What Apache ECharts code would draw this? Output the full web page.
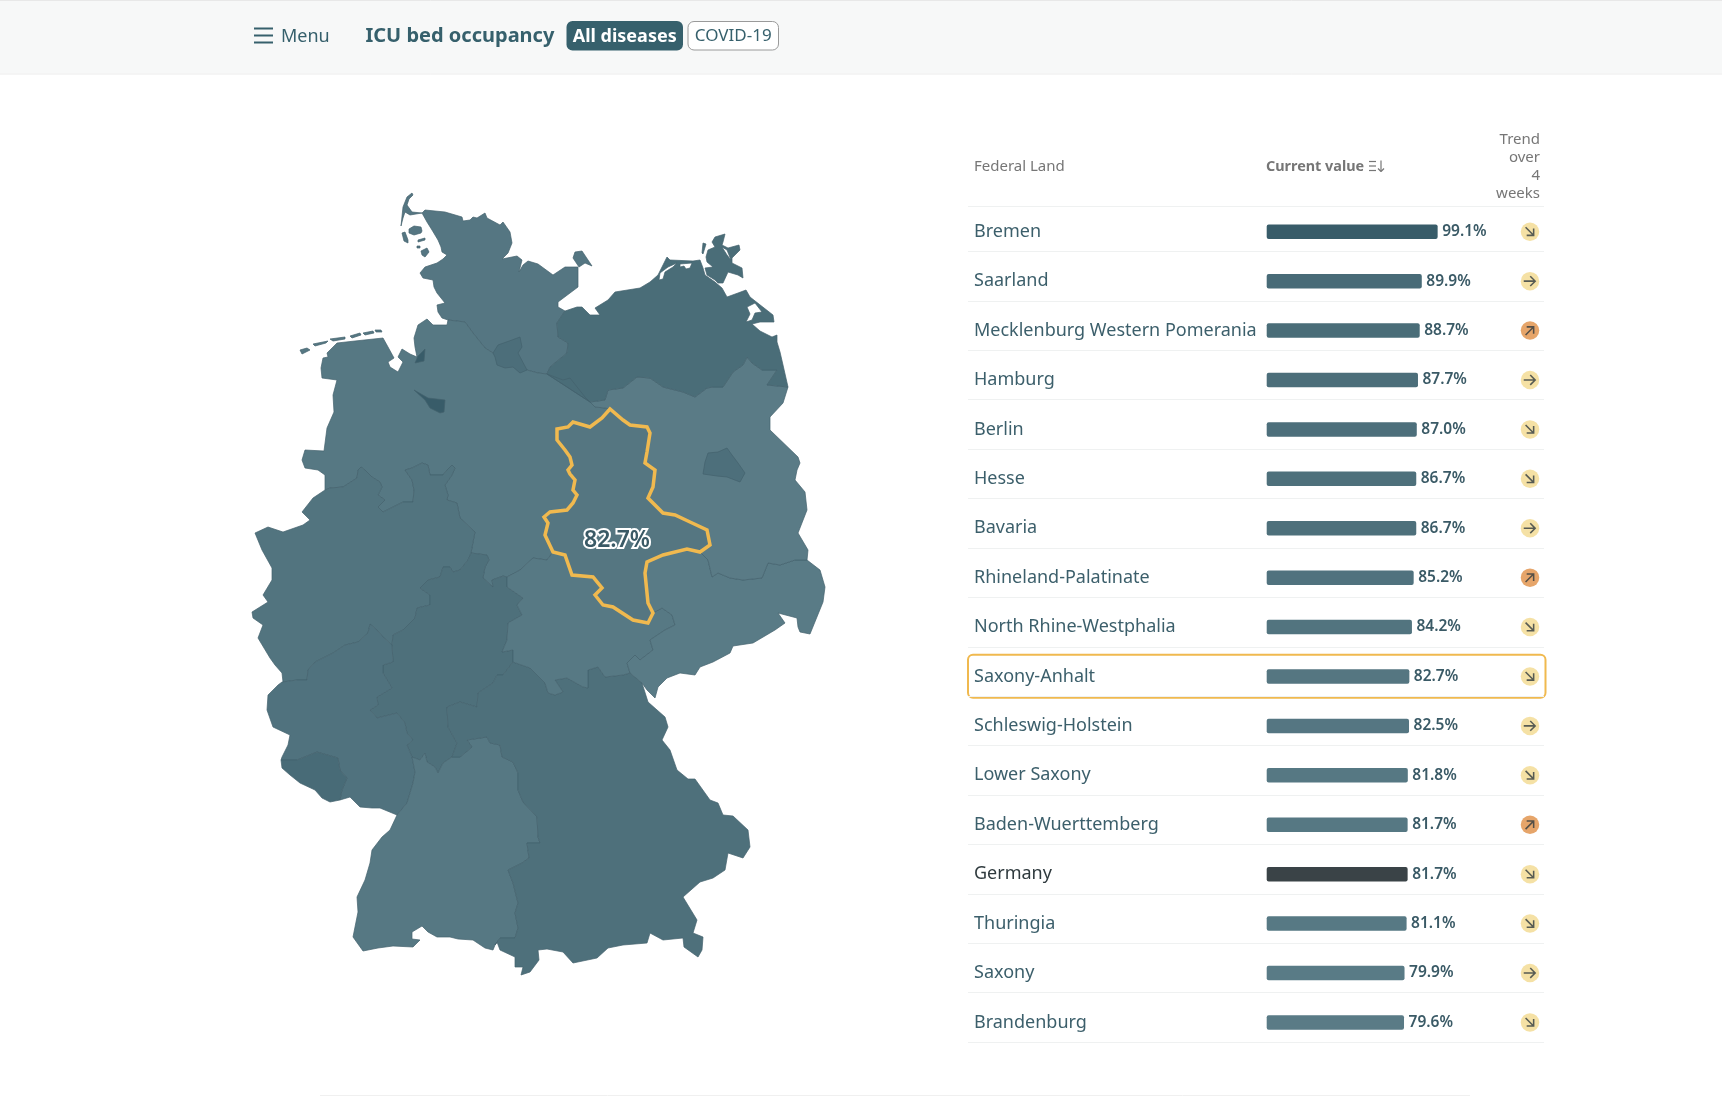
<!DOCTYPE html>
<html><head><meta charset="utf-8">
<style>html,body{margin:0;padding:0;background:#fff}#c{width:1722px;height:1097px}</style>
<script src="https://cdn.jsdelivr.net/npm/echarts@6/dist/echarts.min.js"></script>
</head><body><div id="c"></div>
<script>
const FONT='"Noto Sans",sans-serif';
// ---- table data ----
const lands=['Bremen','Saarland','Mecklenburg Western Pomerania','Hamburg','Berlin','Hesse','Bavaria','Rhineland-Palatinate','North Rhine-Westphalia','Saxony-Anhalt','Schleswig-Holstein','Lower Saxony','Baden-Wuerttemberg','Germany','Thuringia','Saxony','Brandenburg'];
const occupancy=[99.1,89.9,88.7,87.7,87.0,86.7,86.7,85.2,84.2,82.7,82.5,81.8,81.7,81.7,81.1,79.9,79.6];
const trends=['down','flat','up','flat','down','down','flat','up','down','down','flat','down','up','down','down','flat','down'];
const selectedLand='Saxony-Anhalt';
const nationalLand='Germany';

// ---- map geometry: shared border lines (map units) ----
const seaSH=[[448,320],[442,318],[438,312],[437,305],[445,303],[441,298],[437,293],[434,287],[433,280],[423,278],[420,273],[425,267],[437,263],[443,259],[447,255],[442,252],[441,247],[438,240],[432,230],[427,222],[422,213],[425,210],[445,212],[462,217],[463,221],[470,220],[473,217],[477,218],[485,213],[487,218],[500,225],[503,222],[510,232],[512,243],[508,253],[502,259],[517,256],[522,260],[519,272],[523,265],[528,261],[538,264],[553,275],[565,267],[578,267],[578,287],[558,302],[558,307],[565,311]];
const shMV=[[565,311],[557,323],[558,337],[568,343],[567,353],[550,367],[547,374]];
const elbe=[[448,320],[465,322],[473,333],[485,348],[493,353],[510,358],[527,370],[538,373],[547,374]];
const coastNI=[[448,320],[447,325],[433,325],[427,319],[418,325],[414,338],[415,347],[417,357],[410,354],[402,349],[398,357],[403,362],[398,372],[390,367],[388,362],[394,358],[388,347],[383,338],[355,341],[337,343],[327,353],[328,357],[323,358],[321,368],[322,378],[337,380],[333,395],[334,412],[327,428],[324,451],[305,450],[302,460],[305,468],[318,470],[325,475],[325,490]];
const niNRW=[[325,490],[330,488],[343,487],[357,478],[358,470],[361,467],[365,470],[372,477],[380,482],[382,487],[378,495],[385,500],[378,507],[383,512],[397,505],[403,502],[413,502],[414,490],[412,480],[405,470],[412,468],[422,463],[428,465],[430,475],[443,475],[447,470],[452,465],[455,468],[452,475],[445,485],[448,495],[447,500],[457,503],[460,518],[475,532],[473,542],[471,553]];
const niHE=[[471,553],[487,555],[489,560],[485,567],[483,578],[493,587],[492,580],[503,576],[507,577]];
const niTH=[[507,577],[520,570],[533,558],[547,560],[553,552]];
const niST=[[553,552],[545,535],[548,523],[544,517],[550,512],[567,510],[573,503],[577,495],[573,490],[575,480],[570,474],[568,470],[572,465],[570,457],[565,450],[557,440],[557,429],[568,427],[573,422],[590,427],[602,418],[610,409]];
const niBB=[[610,409],[605,408],[595,407],[590,402]];
const niMV=[[590,402],[585,397],[570,378],[563,380],[547,374]];
const stTH=[[553,552],[565,555],[572,575],[593,577],[602,588],[595,595],[603,605],[613,607],[633,620],[648,623],[653,613]];
const stSN=[[653,613],[648,603],[645,573],[647,562],[663,555],[687,549],[700,552]];
const stBB=[[700,552],[710,545],[707,530],[690,522],[675,515],[663,513],[648,498],[653,487],[655,470],[645,463],[647,452],[650,433],[647,427],[630,425],[623,420],[610,409]];
const heTH=[[507,577],[507,587],[523,598],[517,605],[522,615],[508,623],[507,640],[502,652],[513,650],[513,662]];
const thBY=[[513,662],[530,668],[545,683],[548,693],[555,695],[563,692],[555,680],[567,678],[583,687],[588,688],[588,670],[598,667],[605,677],[623,675],[630,673]];
const snTH=[[630,673],[627,663],[635,655],[640,660],[653,650],[650,640],[665,630],[675,625],[672,615],[662,608],[653,613]];
const eastSN=[[630,673],[642,683],[647,690],[655,698],[658,687],[667,678],[680,673],[695,675],[700,667],[713,662],[730,653],[733,646],[753,643],[775,630],[785,623],[778,613],[797,618],[798,627],[800,632],[810,634],[823,602],[825,587],[820,570],[807,560]];
const snBB=[[807,560],[795,560],[780,565],[768,563],[762,578],[743,580],[730,578],[718,573],[712,577],[708,560],[700,552]];
const eastBB=[[807,560],[808,550],[798,533],[807,510],[805,492],[795,480],[797,470],[800,463],[798,457],[770,430],[770,417],[783,403],[788,387]];
const mvBB=[[788,387],[767,385],[777,370],[762,370],[752,363],[747,357],[743,365],[733,372],[723,387],[713,387],[707,388],[695,397],[683,392],[663,387],[650,378],[637,377],[623,388],[608,390],[605,400],[590,402]];
const coastMV=[[565,311],[577,307],[582,307],[590,315],[600,315],[595,308],[608,300],[615,292],[640,288],[650,282],[658,275],[667,257],[670,260],[693,261],[700,260],[703,268],[705,275],[715,282],[722,288],[727,297],[738,293],[746,290],[750,297],[773,315],[774,322],[760,322],[752,324],[760,331],[772,337],[777,335],[777,342],[780,352],[783,365],[788,387]];
const eastBY=[[642,683],[648,702],[665,717],[668,727],[662,740],[670,750],[677,770],[688,779],[695,779],[710,800],[718,803],[723,815],[733,816],[748,830],[750,847],[743,858],[728,853],[725,870],[713,878],[700,882],[683,897],[697,920],[693,933],[703,937],[702,950],[698,957],[684,947],[683,938],[663,940],[650,933],[647,943],[623,945],[608,948],[597,958],[573,963],[563,952],[547,949],[538,950],[539,960],[530,972],[521,975],[523,967],[515,967],[515,957],[500,950],[497,942],[495,945]];
const bwBY=[[452,757],[460,757],[472,747],[467,740],[487,737],[490,743],[500,745],[502,757],[513,762],[518,773],[518,790],[523,802],[537,817],[538,837],[540,843],[527,843],[529,858],[522,863],[508,870],[513,883],[518,903],[515,913],[518,928],[515,938],[500,938],[495,945]];
const heBY=[[513,662],[503,675],[497,675],[493,683],[478,693],[477,707],[460,702],[447,707],[448,727],[457,743],[452,757]];
const heBW=[[452,757],[443,763],[438,773],[435,767],[427,762],[425,753],[420,760],[412,757]];
const heRP=[[392,645],[393,662],[383,665],[383,673],[392,688],[377,697],[378,705],[370,710],[377,718],[397,713],[405,723],[407,733],[413,740],[407,745],[412,757]];
const nrwHE=[[471,553],[468,560],[460,570],[453,572],[450,567],[443,567],[440,577],[428,580],[420,588],[430,595],[430,605],[417,608],[415,618],[403,630],[393,635],[392,645]];
const nrwRP=[[392,645],[383,637],[377,630],[370,624],[368,633],[358,642],[345,645],[333,653],[315,662],[308,670],[307,680],[297,680],[283,682],[282,682]];
const westNRW=[[325,490],[313,498],[302,512],[310,520],[303,525],[283,532],[268,527],[255,533],[262,550],[272,568],[272,580],[263,595],[268,602],[252,612],[253,618],[263,625],[258,638],[270,658],[275,665],[282,673],[282,682]];
const westRP=[[282,682],[278,685],[268,695],[267,710],[273,727],[290,735],[288,745],[282,757],[281,760]];
const slN=[[281,760],[297,760],[317,752],[338,758],[340,770],[347,778],[342,790],[340,800]];
const slS=[[340,800],[330,802],[322,798],[315,790],[300,783],[290,775],[282,768],[281,760]];
const rpS=[[340,800],[350,797],[360,807],[372,808],[380,808],[397,815]];
const rpBW=[[397,815],[407,803],[413,783],[415,772],[412,757]];
const southBW=[[397,815],[390,830],[382,837],[372,850],[370,863],[365,880],[357,897],[358,912],[353,937],[363,951],[378,948],[393,946],[413,947],[420,940],[412,939],[412,932],[422,926],[428,932],[437,937],[450,937],[458,939],[473,940],[485,948],[493,950],[495,945]];
const isleSylt=[[412,193],[407,197],[403,207],[401,226],[403,218],[405,212],[410,215],[422,213],[412,212],[407,205],[409,199],[413,195]];
const isleFoehr=[[409,229],[414,226],[421,227],[422,231],[421,233],[414,235],[409,233]];
const isleAmrum=[[402,233],[405,232],[408,240],[408,243],[404,241]];
const islePellworm=[[421,251],[427,248],[429,252],[425,257],[422,255]];
const isleHalligen=[[418,240],[425,238],[425,240],[418,242]];
const isleHooge=[[417,246],[420,246],[420,248],[417,248]];
const isleFehmarn=[[573,258],[575,252],[582,251],[592,266],[585,263],[579,267]];
const frisian1=[[300,350],[307,348],[310,350],[302,354]];
const frisian2=[[313,344],[328,341],[326,343],[315,346]];
const frisian3=[[330,339],[345,337],[345,339],[333,341]];
const frisian4=[[350,336],[360,333],[361,335],[352,338]];
const frisian5=[[363,333],[373,331],[374,333],[365,335]];
const frisian6=[[375,330],[381,330],[382,332],[376,332]];
const isleRuegen=[[712,242],[715,237],[725,234],[723,242],[722,245],[728,248],[739,245],[740,250],[732,258],[732,263],[742,268],[743,278],[738,275],[728,272],[723,283],[718,283],[715,280],[707,275],[705,268],[713,267],[707,262],[706,257],[708,250],[715,247]];
const isleHiddensee=[[703,243],[706,244],[703,254],[702,253]];
const lagoonDarss=[[659,280],[660,273],[668,267],[677,263],[673,267],[665,272],[663,279]];
const lagoonZingst=[[680,264],[692,263],[690,268],[686,269],[684,266],[680,267]];
const lagoonUsedom=[[747,307],[755,303],[762,312],[755,313],[752,320],[746,322],[750,314]];
const lagoonRuegen=[[722,247],[727,250],[731,260],[727,255]];
const hamburgShape=[[493,353],[498,345],[512,340],[520,337],[522,347],[518,353],[527,370],[520,373],[513,367],[505,368],[497,365],[495,357]];
const bremenShape=[[414,390],[428,398],[445,400],[444,412],[440,413],[430,408],[425,400]];
const bremerhavenShape=[[415,363],[418,356],[425,349],[424,361]];
const berlinShape=[[705,462],[708,453],[718,452],[727,448],[732,455],[738,463],[745,473],[740,482],[727,477],[717,476],[703,474]];
const saLabelAnchor=[617,540];

const rev=a=>a.slice().reverse();
const ring=(...parts)=>[].concat(...parts);
const landShapes=[
 ['Schleswig-Holstein',[[ring(seaSH,shMV,rev(elbe))],[isleSylt],[isleFoehr],[isleAmrum],[islePellworm],[isleHalligen],[isleHooge],[isleFehmarn]]],
 ['Lower Saxony',[[ring(coastNI,niNRW,niHE,niTH,niST,niBB,niMV,rev(elbe))],[frisian1],[frisian2],[frisian3],[frisian4],[frisian5],[frisian6]]],
 ['North Rhine-Westphalia',[[ring(niNRW,nrwHE,nrwRP,rev(westNRW))]]],
 ['Hesse',[[ring(niHE,heTH,heBY,heBW,rev(heRP),rev(nrwHE))]]],
 ['Rhineland-Palatinate',[[ring(rev(nrwRP),heRP,rev(rpBW),rev(rpS),rev(slN),rev(westRP))]]],
 ['Saarland',[[ring(slN,slS)]]],
 ['Baden-Wuerttemberg',[[ring(rpBW,rev(heBW),bwBY,rev(southBW))]]],
 ['Bavaria',[[ring(thBY,eastBY,rev(bwBY),rev(heBY))]]],
 ['Thuringia',[[ring(heTH,thBY,snTH,rev(stTH),rev(niTH))]]],
 ['Saxony',[[ring(eastSN,snBB,rev(stSN),rev(snTH))]]],
 ['Brandenburg',[[ring(rev(niBB),rev(stBB),rev(snBB),eastBB,mvBB)]]],
 ['Mecklenburg Western Pomerania',[[ring(coastMV,mvBB,rev(niMV),rev(shMV)),rev(lagoonDarss),rev(lagoonZingst),rev(lagoonUsedom)],[isleRuegen,rev(lagoonRuegen)],[isleHiddensee]]],
 ['Hamburg',[[hamburgShape]]],
 ['Bremen',[[bremenShape],[bremerhavenShape]]],
 ['Berlin',[[berlinShape]]],
 ['Saxony-Anhalt',[[ring(rev(niST),stTH,stSN,stBB)]]]
];
const germany={type:'FeatureCollection',features:landShapes.map(([name,coords])=>({type:'Feature',
  properties:Object.assign({name},name===selectedLand?{cp:saLabelAnchor}:{}),
  geometry:{type:'MultiPolygon',coordinates:coords}}))};
echarts.registerMap('germany',germany);

// ---- colours ----
const TEAL='#36606c',INK='#3c5f6b',GREY='#767676',AMBER='#f0b94f';
const lo=Math.min(...occupancy),hi=Math.max(...occupancy);
const shade=v=>echarts.color.lerp((v-lo)/(hi-lo),['#5a7b86','#385c69']);
const barColor=(n,v)=>n===nationalLand?'#3a4347':shade(v);
const trendFill={down:'#f3d98f',flat:'#f3d98f',up:'#e08f45'};
const trendAngle={down:-45,flat:0,up:45};
const ARROW='path://M4 11h12.2l-4.6-4.6 1.4-1.4 7 7-7 7-1.4-1.4 4.6-4.6H4z';

const mapData=landShapes.map(([name])=>{
  const v=occupancy[lands.indexOf(name)],sel=name===selectedLand;
  return {name,value:v,
    itemStyle:{areaColor:shade(v),borderColor:sel?AMBER:'#44626d',borderWidth:sel?3.5:0.7},
    label:{show:sel}};
});

const txt=(x,y,text,o)=>({type:'text',x,y,silent:true,style:Object.assign({text,fontFamily:FONT,fill:TEAL,verticalAlign:'middle',align:'left'},o||{})});
const ln=(x1,y1,x2,y2,stroke,w)=>({type:'line',silent:true,shape:{x1,y1,x2,y2},style:{stroke,lineWidth:w}});

const chart=echarts.init(document.getElementById('c'));
chart.setOption({
 animation:false,backgroundColor:'#fff',
 grid:[
  {left:968,width:576,top:202,height:840.1},
  {left:1266.7,width:172.5,top:207,height:840.1},
  {left:1520,width:20,top:207,height:840.1}
 ],
 xAxis:[
  {gridIndex:0,type:'value',min:0,max:1,show:false},
  {gridIndex:1,type:'value',min:0,max:100,show:false},
  {gridIndex:2,type:'value',min:0,max:2,show:false}
 ],
 yAxis:[
  {gridIndex:0,type:'category',inverse:true,data:lands,axisLine:{show:false},axisTick:{show:false},axisLabel:{show:false},
   splitLine:{show:true,showMinLine:false,lineStyle:{color:'#eff1f1',width:1}}},
  {gridIndex:1,type:'category',inverse:true,data:lands,axisLine:{show:false},axisTick:{show:false},splitLine:{show:false},
   axisLabel:{show:true,align:'left',margin:292.7,fontFamily:FONT,fontSize:18,padding:[1.5,0,0,0],
     color:(v)=>v===nationalLand?'#2f3a3e':INK}},
  {gridIndex:2,type:'category',inverse:true,data:lands,show:false}
 ],
 series:[
  {type:'map',map:'germany',aspectScale:1,left:0,top:0,width:1722,height:1097,
   boundingCoords:[[0,0],[1722,1097]],
   projection:{project:p=>[p[0],p[1]],unproject:p=>[p[0],p[1]]},
   roam:false,silent:true,selectedMode:false,data:mapData,
   label:{show:false,formatter:p=>p.value.toFixed(1)+'%',fontFamily:FONT,fontSize:23,fontWeight:600,color:'#3a5a66',textBorderColor:'#fff',textBorderWidth:4}},
  {type:'bar',xAxisIndex:1,yAxisIndex:1,barWidth:14.5,
   data:occupancy.map((v,i)=>({value:v,itemStyle:{color:barColor(lands[i],v),borderRadius:2}})),
   label:{show:true,position:'right',distance:4.5,formatter:p=>p.value.toFixed(1)+'%',fontFamily:FONT,fontSize:15.5,fontWeight:600,color:'#3a5a66'},silent:true},
  {type:'scatter',xAxisIndex:2,yAxisIndex:2,symbol:'circle',symbolSize:18.5,silent:true,z:3,
   data:trends.map((t,i)=>({value:[1,i],itemStyle:{color:trendFill[t]}}))},
  {type:'scatter',xAxisIndex:2,yAxisIndex:2,symbol:ARROW,symbolSize:12.5,symbolKeepAspect:true,silent:true,z:4,
   data:trends.map((t,i)=>({value:[1,i],symbolRotate:trendAngle[t],itemStyle:{color:'#2f3a3e'}}))}
 ],
 graphic:[
  {type:'rect',silent:true,shape:{x:0,y:0,width:1722,height:73.5},style:{fill:'#f7f8f8'}},
  ln(0,74,1722,74,'#ececec',1),
  ln(0,.5,1722,.5,'#e8e8e8',1),
  ln(254,28.5,273,28.5,TEAL,2),ln(254,35.5,273,35.5,TEAL,2),ln(254,42.5,273,42.5,TEAL,2),
  txt(281,37,'Menu',{fontSize:18}),
  txt(365.5,36.5,'ICU bed occupancy',{fontSize:20,fontWeight:700}),
  {type:'rect',silent:true,shape:{x:566.5,y:21,width:116.5,height:29.5,r:6},style:{fill:TEAL}},
  txt(624.7,36.5,'All diseases',{fontSize:18,fontWeight:700,fill:'#fff',align:'center'}),
  {type:'rect',silent:true,shape:{x:688,y:21.5,width:90.5,height:28.5,r:6},style:{fill:'#fff',stroke:'#9a9a9a',lineWidth:1}},
  txt(733.2,36.5,'COVID-19',{fontSize:17,align:'center'}),
  txt(974,167,'Federal Land',{fontSize:15,fill:GREY}),
  txt(1266,167,'Current value',{fontSize:14.4,fontWeight:700,fill:GREY}),
  ln(1369,161.5,1376,161.5,GREY,1.2),ln(1369,166,1376,166,GREY,1.2),ln(1369,170.5,1376,170.5,GREY,1.2),
  ln(1381,160.5,1381,171.5,GREY,1.2),ln(1378,168.5,1381,171.5,GREY,1.2),ln(1384,168.5,1381,171.5,GREY,1.2),
  txt(1540,139.5,'Trend',{fontSize:15,fill:GREY,align:'right'}),
  txt(1540,157.5,'over',{fontSize:15,fill:GREY,align:'right'}),
  txt(1540,176,'4',{fontSize:15,fill:GREY,align:'right'}),
  txt(1540,194,'weeks',{fontSize:15,fill:GREY,align:'right'}),
  ln(968,206.5,1544,206.5,'#eff1f1',1),
  ln(320,1095.5,1470,1095.5,'#f0f0f0',1)
 ]
});
const selY=chart.convertToPixel({yAxisIndex:1},selectedLand);
chart.setOption({graphic:[{id:'selectedRow',type:'rect',silent:true,shape:{x:968,y:selY-21.7,width:577.5,height:43,r:5},style:{fill:'none',stroke:AMBER,lineWidth:2}}]});
</script></body></html>
